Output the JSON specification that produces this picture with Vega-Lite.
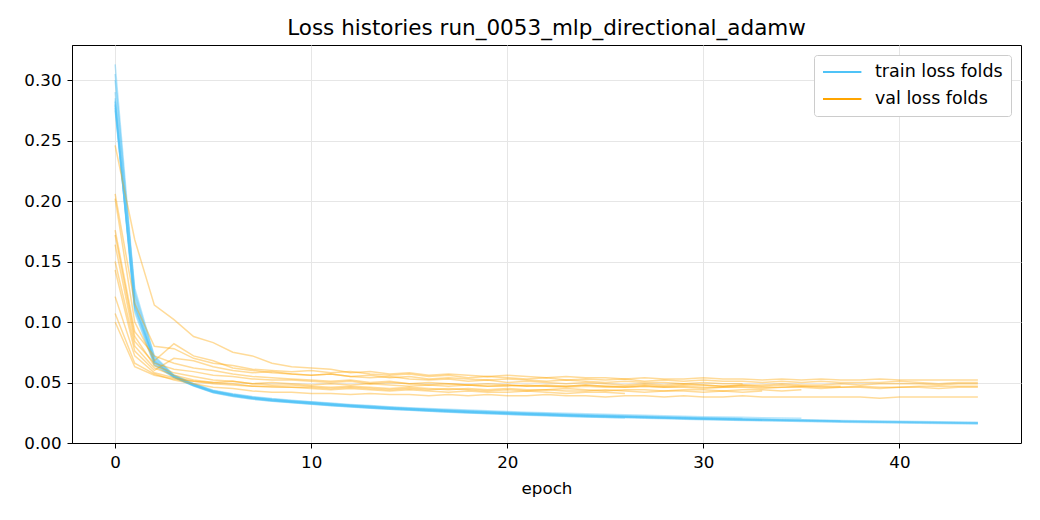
{
  "$schema": "https://vega.github.io/schema/vega-lite/v6.json",
  "description": "Train and validation loss for each fold, by epoch.",
  "width": 949,
  "height": 398,
  "autosize": {"type": "none"},
  "padding": {"left": 72, "top": 45, "right": 19, "bottom": 77},
  "background": "white",
  "title": {
    "text": "Loss histories run_0053_mlp_directional_adamw",
    "font": "DejaVu Sans",
    "fontSize": 21.5,
    "fontWeight": "normal",
    "color": "black",
    "anchor": "middle",
    "offset": 6
  },
  "config": {
    "font": "DejaVu Sans",
    "view": {"stroke": "black", "strokeWidth": 1},
    "axis": {
      "domainColor": "black",
      "tickColor": "black",
      "tickSize": 5,
      "labelFont": "DejaVu Sans",
      "labelFontSize": 16.7,
      "labelColor": "black",
      "labelPadding": 6,
      "gridColor": "#e6e6e6",
      "titleFont": "DejaVu Sans",
      "titleFontSize": 16.7,
      "titleFontWeight": "normal",
      "titleColor": "black"
    }
  },
  "data": {
    "values": [
      {"f": 1, "e": 0, "t": 0.313, "v": 0.246}, {"f": 1, "e": 1, "t": 0.125, "v": 0.168}, {"f": 1, "e": 2, "t": 0.071, "v": 0.114},
      {"f": 1, "e": 3, "t": 0.0556, "v": 0.102}, {"f": 1, "e": 4, "t": 0.0486, "v": 0.088}, {"f": 1, "e": 5, "t": 0.0431, "v": 0.083},
      {"f": 1, "e": 6, "t": 0.0401, "v": 0.075}, {"f": 1, "e": 7, "t": 0.0378, "v": 0.072}, {"f": 1, "e": 8, "t": 0.0361, "v": 0.066},
      {"f": 1, "e": 9, "t": 0.0348, "v": 0.063}, {"f": 1, "e": 10, "t": 0.0336, "v": 0.062}, {"f": 1, "e": 11, "t": 0.0324, "v": 0.061},
      {"f": 1, "e": 12, "t": 0.0313, "v": 0.058}, {"f": 1, "e": 13, "t": 0.0303, "v": 0.059}, {"f": 1, "e": 14, "t": 0.0294, "v": 0.057},
      {"f": 1, "e": 15, "t": 0.0286, "v": 0.058}, {"f": 1, "e": 16, "t": 0.0278, "v": 0.056}, {"f": 1, "e": 17, "t": 0.0271, "v": 0.057},
      {"f": 1, "e": 18, "t": 0.0264, "v": 0.056}, {"f": 1, "e": 19, "t": 0.0258, "v": 0.055}, {"f": 1, "e": 20, "t": 0.0252, "v": 0.056},
      {"f": 1, "e": 21, "t": 0.0246, "v": 0.055}, {"f": 1, "e": 22, "t": 0.0241, "v": 0.054}, {"f": 1, "e": 23, "t": 0.0236, "v": 0.055},
      {"f": 1, "e": 24, "t": 0.0231, "v": 0.054}, {"f": 1, "e": 25, "t": 0.0227, "v": 0.054}, {"f": 1, "e": 26, "t": 0.0223, "v": 0.053},
      {"f": 1, "e": 27, "t": 0.0219, "v": 0.054}, {"f": 1, "e": 28, "t": 0.0215, "v": 0.053}, {"f": 1, "e": 29, "t": 0.0211, "v": 0.053},
      {"f": 1, "e": 30, "t": 0.0207, "v": 0.054}, {"f": 1, "e": 31, "t": 0.0204, "v": 0.053}, {"f": 1, "e": 32, "t": 0.0201, "v": 0.053},
      {"f": 1, "e": 33, "t": 0.0198, "v": 0.052}, {"f": 1, "e": 34, "t": 0.0195, "v": 0.053}, {"f": 1, "e": 35, "t": 0.0192, "v": 0.052},
      {"f": 1, "e": 36, "t": 0.0189, "v": 0.053}, {"f": 1, "e": 37, "t": 0.0186, "v": 0.052}, {"f": 1, "e": 38, "t": 0.0184, "v": 0.052},
      {"f": 1, "e": 39, "t": 0.0182, "v": 0.053}, {"f": 1, "e": 40, "t": 0.018, "v": 0.052}, {"f": 1, "e": 41, "t": 0.0178, "v": 0.052},
      {"f": 1, "e": 42, "t": 0.0176, "v": 0.052}, {"f": 1, "e": 43, "t": 0.0174, "v": 0.052}, {"f": 1, "e": 44, "t": 0.0172, "v": 0.052},

      {"f": 2, "e": 0, "t": 0.305, "v": 0.206}, {"f": 2, "e": 1, "t": 0.121, "v": 0.115}, {"f": 2, "e": 2, "t": 0.067, "v": 0.08},
      {"f": 2, "e": 3, "t": 0.0545, "v": 0.078}, {"f": 2, "e": 4, "t": 0.0475, "v": 0.07}, {"f": 2, "e": 5, "t": 0.042, "v": 0.066},
      {"f": 2, "e": 6, "t": 0.039, "v": 0.064}, {"f": 2, "e": 7, "t": 0.0367, "v": 0.061}, {"f": 2, "e": 8, "t": 0.035, "v": 0.06},
      {"f": 2, "e": 9, "t": 0.0337, "v": 0.059}, {"f": 2, "e": 10, "t": 0.0325, "v": 0.06}, {"f": 2, "e": 11, "t": 0.0313, "v": 0.058},
      {"f": 2, "e": 12, "t": 0.0302, "v": 0.059}, {"f": 2, "e": 13, "t": 0.0292, "v": 0.057}, {"f": 2, "e": 14, "t": 0.0283, "v": 0.056},
      {"f": 2, "e": 15, "t": 0.0275, "v": 0.057}, {"f": 2, "e": 16, "t": 0.0267, "v": 0.055}, {"f": 2, "e": 17, "t": 0.026, "v": 0.056},
      {"f": 2, "e": 18, "t": 0.0253, "v": 0.054}, {"f": 2, "e": 19, "t": 0.0247, "v": 0.055}, {"f": 2, "e": 20, "t": 0.0241, "v": 0.054},
      {"f": 2, "e": 21, "t": 0.0235, "v": 0.053}, {"f": 2, "e": 22, "t": 0.023, "v": 0.054}, {"f": 2, "e": 23, "t": 0.0225, "v": 0.052},
      {"f": 2, "e": 24, "t": 0.022, "v": 0.053}, {"f": 2, "e": 25, "t": 0.0216, "v": 0.052}, {"f": 2, "e": 26, "t": 0.0212, "v": 0.053},
      {"f": 2, "e": 27, "t": 0.0208, "v": 0.051}, {"f": 2, "e": 28, "t": 0.0204, "v": 0.052}, {"f": 2, "e": 29, "t": 0.02, "v": 0.051},
      {"f": 2, "e": 30, "t": 0.0196, "v": 0.052}, {"f": 2, "e": 31, "t": 0.0193, "v": 0.051}, {"f": 2, "e": 32, "t": 0.019, "v": 0.051},
      {"f": 2, "e": 33, "t": 0.0187, "v": 0.05}, {"f": 2, "e": 34, "t": 0.0184, "v": 0.051}, {"f": 2, "e": 35, "t": 0.0181, "v": 0.05},
      {"f": 2, "e": 36, "t": 0.0178, "v": 0.051}, {"f": 2, "e": 37, "t": 0.0175, "v": 0.05}, {"f": 2, "e": 38, "t": 0.0173, "v": 0.05},
      {"f": 2, "e": 39, "t": 0.0171, "v": 0.05}, {"f": 2, "e": 40, "t": 0.0169, "v": 0.051}, {"f": 2, "e": 41, "t": 0.0167, "v": 0.05},
      {"f": 2, "e": 42, "t": 0.0165, "v": 0.049}, {"f": 2, "e": 43, "t": 0.0163, "v": 0.05}, {"f": 2, "e": 44, "t": 0.0161, "v": 0.05},

      {"f": 3, "e": 0, "t": 0.282, "v": 0.202}, {"f": 3, "e": 1, "t": 0.112, "v": 0.1}, {"f": 3, "e": 2, "t": 0.069, "v": 0.068},
      {"f": 3, "e": 3, "t": 0.0553, "v": 0.082}, {"f": 3, "e": 4, "t": 0.0483, "v": 0.072}, {"f": 3, "e": 5, "t": 0.0428, "v": 0.068},
      {"f": 3, "e": 6, "t": 0.0398, "v": 0.062}, {"f": 3, "e": 7, "t": 0.0375, "v": 0.06}, {"f": 3, "e": 8, "t": 0.0358, "v": 0.058},
      {"f": 3, "e": 9, "t": 0.0345, "v": 0.057}, {"f": 3, "e": 10, "t": 0.0333, "v": 0.056}, {"f": 3, "e": 11, "t": 0.0321, "v": 0.057},
      {"f": 3, "e": 12, "t": 0.031, "v": 0.055}, {"f": 3, "e": 13, "t": 0.03, "v": 0.054}, {"f": 3, "e": 14, "t": 0.0291, "v": 0.055},
      {"f": 3, "e": 15, "t": 0.0283, "v": 0.053}, {"f": 3, "e": 16, "t": 0.0275, "v": 0.052}, {"f": 3, "e": 17, "t": 0.0268, "v": 0.053},
      {"f": 3, "e": 18, "t": 0.0261, "v": 0.051}, {"f": 3, "e": 19, "t": 0.0255, "v": 0.052}, {"f": 3, "e": 20, "t": 0.0249, "v": 0.05},
      {"f": 3, "e": 21, "t": 0.0243, "v": 0.051}, {"f": 3, "e": 22, "t": 0.0238, "v": 0.05}, {"f": 3, "e": 23, "t": 0.0233, "v": 0.049},
      {"f": 3, "e": 24, "t": 0.0228, "v": 0.05}, {"f": 3, "e": 25, "t": 0.0224, "v": 0.049}, {"f": 3, "e": 26, "t": 0.022, "v": 0.048},
      {"f": 3, "e": 27, "t": 0.0216, "v": 0.049}, {"f": 3, "e": 28, "t": 0.0212, "v": 0.048}, {"f": 3, "e": 29, "t": 0.0208, "v": 0.049},
      {"f": 3, "e": 30, "t": 0.0204, "v": 0.048}, {"f": 3, "e": 31, "t": 0.0201, "v": 0.047}, {"f": 3, "e": 32, "t": 0.0198, "v": 0.048},
      {"f": 3, "e": 33, "t": 0.0195, "v": 0.047}, {"f": 3, "e": 34, "t": 0.0192, "v": 0.048}, {"f": 3, "e": 35, "t": 0.0189, "v": 0.047},
      {"f": 3, "e": 36, "t": 0.0186, "v": 0.047}, {"f": 3, "e": 37, "t": 0.0183, "v": 0.047},

      {"f": 4, "e": 0, "t": 0.279, "v": 0.176}, {"f": 4, "e": 1, "t": 0.11, "v": 0.092}, {"f": 4, "e": 2, "t": 0.065, "v": 0.072},
      {"f": 4, "e": 3, "t": 0.0542, "v": 0.066}, {"f": 4, "e": 4, "t": 0.0472, "v": 0.062}, {"f": 4, "e": 5, "t": 0.0417, "v": 0.06},
      {"f": 4, "e": 6, "t": 0.0387, "v": 0.057}, {"f": 4, "e": 7, "t": 0.0364, "v": 0.055}, {"f": 4, "e": 8, "t": 0.0347, "v": 0.054},
      {"f": 4, "e": 9, "t": 0.0334, "v": 0.053}, {"f": 4, "e": 10, "t": 0.0322, "v": 0.052}, {"f": 4, "e": 11, "t": 0.031, "v": 0.051},
      {"f": 4, "e": 12, "t": 0.0299, "v": 0.052}, {"f": 4, "e": 13, "t": 0.0289, "v": 0.05}, {"f": 4, "e": 14, "t": 0.028, "v": 0.051},
      {"f": 4, "e": 15, "t": 0.0272, "v": 0.049}, {"f": 4, "e": 16, "t": 0.0264, "v": 0.05}, {"f": 4, "e": 17, "t": 0.0257, "v": 0.049},
      {"f": 4, "e": 18, "t": 0.025, "v": 0.048}, {"f": 4, "e": 19, "t": 0.0244, "v": 0.049}, {"f": 4, "e": 20, "t": 0.0238, "v": 0.048},
      {"f": 4, "e": 21, "t": 0.0232, "v": 0.047}, {"f": 4, "e": 22, "t": 0.0227, "v": 0.048}, {"f": 4, "e": 23, "t": 0.0222, "v": 0.047},
      {"f": 4, "e": 24, "t": 0.0217, "v": 0.048}, {"f": 4, "e": 25, "t": 0.0213, "v": 0.047}, {"f": 4, "e": 26, "t": 0.0209, "v": 0.046},
      {"f": 4, "e": 27, "t": 0.0205, "v": 0.047}, {"f": 4, "e": 28, "t": 0.0201, "v": 0.046}, {"f": 4, "e": 29, "t": 0.0197, "v": 0.047},
      {"f": 4, "e": 30, "t": 0.0193, "v": 0.046}, {"f": 4, "e": 31, "t": 0.019, "v": 0.046}, {"f": 4, "e": 32, "t": 0.0187, "v": 0.047},
      {"f": 4, "e": 33, "t": 0.0184, "v": 0.046}, {"f": 4, "e": 34, "t": 0.0181, "v": 0.046}, {"f": 4, "e": 35, "t": 0.0178, "v": 0.047},
      {"f": 4, "e": 36, "t": 0.0175, "v": 0.046}, {"f": 4, "e": 37, "t": 0.0172, "v": 0.046}, {"f": 4, "e": 38, "t": 0.017, "v": 0.047},
      {"f": 4, "e": 39, "t": 0.0168, "v": 0.046}, {"f": 4, "e": 40, "t": 0.0166, "v": 0.046}, {"f": 4, "e": 41, "t": 0.0164, "v": 0.047},
      {"f": 4, "e": 42, "t": 0.0162, "v": 0.047}, {"f": 4, "e": 43, "t": 0.016, "v": 0.047}, {"f": 4, "e": 44, "t": 0.0158, "v": 0.047},

      {"f": 5, "e": 0, "t": 0.285, "v": 0.172}, {"f": 5, "e": 1, "t": 0.128, "v": 0.088}, {"f": 5, "e": 2, "t": 0.072, "v": 0.064},
      {"f": 5, "e": 3, "t": 0.0562, "v": 0.058}, {"f": 5, "e": 4, "t": 0.0492, "v": 0.055}, {"f": 5, "e": 5, "t": 0.0437, "v": 0.052},
      {"f": 5, "e": 6, "t": 0.0407, "v": 0.051}, {"f": 5, "e": 7, "t": 0.0384, "v": 0.049}, {"f": 5, "e": 8, "t": 0.0367, "v": 0.048},
      {"f": 5, "e": 9, "t": 0.0354, "v": 0.048}, {"f": 5, "e": 10, "t": 0.0342, "v": 0.047}, {"f": 5, "e": 11, "t": 0.033, "v": 0.046},
      {"f": 5, "e": 12, "t": 0.0319, "v": 0.047}, {"f": 5, "e": 13, "t": 0.0309, "v": 0.046}, {"f": 5, "e": 14, "t": 0.03, "v": 0.045},
      {"f": 5, "e": 15, "t": 0.0292, "v": 0.046}, {"f": 5, "e": 16, "t": 0.0285, "v": 0.045}, {"f": 5, "e": 17, "t": 0.0278, "v": 0.044},
      {"f": 5, "e": 18, "t": 0.0272, "v": 0.045}, {"f": 5, "e": 19, "t": 0.0266, "v": 0.044}, {"f": 5, "e": 20, "t": 0.026, "v": 0.045},
      {"f": 5, "e": 21, "t": 0.0255, "v": 0.044}, {"f": 5, "e": 22, "t": 0.025, "v": 0.044}, {"f": 5, "e": 23, "t": 0.0245, "v": 0.045},
      {"f": 5, "e": 24, "t": 0.0241, "v": 0.044}, {"f": 5, "e": 25, "t": 0.0237, "v": 0.043}, {"f": 5, "e": 26, "t": 0.0233, "v": 0.044},
      {"f": 5, "e": 27, "t": 0.0229, "v": 0.044}, {"f": 5, "e": 28, "t": 0.0225, "v": 0.043}, {"f": 5, "e": 29, "t": 0.0221, "v": 0.044},
      {"f": 5, "e": 30, "t": 0.0218, "v": 0.044}, {"f": 5, "e": 31, "t": 0.0215, "v": 0.043}, {"f": 5, "e": 32, "t": 0.0212, "v": 0.044},
      {"f": 5, "e": 33, "t": 0.0209, "v": 0.044}, {"f": 5, "e": 34, "t": 0.0206, "v": 0.043}, {"f": 5, "e": 35, "t": 0.0204, "v": 0.044},

      {"f": 6, "e": 0, "t": 0.29, "v": 0.164}, {"f": 6, "e": 1, "t": 0.118, "v": 0.084}, {"f": 6, "e": 2, "t": 0.068, "v": 0.066},
      {"f": 6, "e": 3, "t": 0.055, "v": 0.061}, {"f": 6, "e": 4, "t": 0.048, "v": 0.059}, {"f": 6, "e": 5, "t": 0.0425, "v": 0.056},
      {"f": 6, "e": 6, "t": 0.0395, "v": 0.055}, {"f": 6, "e": 7, "t": 0.0372, "v": 0.053}, {"f": 6, "e": 8, "t": 0.0355, "v": 0.052},
      {"f": 6, "e": 9, "t": 0.0342, "v": 0.052}, {"f": 6, "e": 10, "t": 0.033, "v": 0.051}, {"f": 6, "e": 11, "t": 0.0318, "v": 0.05},
      {"f": 6, "e": 12, "t": 0.0307, "v": 0.051}, {"f": 6, "e": 13, "t": 0.0297, "v": 0.049}, {"f": 6, "e": 14, "t": 0.0288, "v": 0.05},
      {"f": 6, "e": 15, "t": 0.028, "v": 0.049}, {"f": 6, "e": 16, "t": 0.0272, "v": 0.048}, {"f": 6, "e": 17, "t": 0.0265, "v": 0.049},
      {"f": 6, "e": 18, "t": 0.0258, "v": 0.048}, {"f": 6, "e": 19, "t": 0.0252, "v": 0.047}, {"f": 6, "e": 20, "t": 0.0246, "v": 0.048},
      {"f": 6, "e": 21, "t": 0.024, "v": 0.047}, {"f": 6, "e": 22, "t": 0.0235, "v": 0.047}, {"f": 6, "e": 23, "t": 0.023, "v": 0.046},
      {"f": 6, "e": 24, "t": 0.0225, "v": 0.047}, {"f": 6, "e": 25, "t": 0.0221, "v": 0.046}, {"f": 6, "e": 26, "t": 0.0217, "v": 0.046},
      {"f": 6, "e": 27, "t": 0.0213, "v": 0.047}, {"f": 6, "e": 28, "t": 0.0209, "v": 0.046}, {"f": 6, "e": 29, "t": 0.0205, "v": 0.046},
      {"f": 6, "e": 30, "t": 0.0201, "v": 0.045}, {"f": 6, "e": 31, "t": 0.0198, "v": 0.046}, {"f": 6, "e": 32, "t": 0.0195, "v": 0.046},
      {"f": 6, "e": 33, "t": 0.0192, "v": 0.045}, {"f": 6, "e": 34, "t": 0.0189, "v": 0.046}, {"f": 6, "e": 35, "t": 0.0186, "v": 0.046},
      {"f": 6, "e": 36, "t": 0.0183, "v": 0.045}, {"f": 6, "e": 37, "t": 0.018, "v": 0.046}, {"f": 6, "e": 38, "t": 0.0178, "v": 0.046},
      {"f": 6, "e": 39, "t": 0.0176, "v": 0.045}, {"f": 6, "e": 40, "t": 0.0174, "v": 0.046}, {"f": 6, "e": 41, "t": 0.0172, "v": 0.046},
      {"f": 6, "e": 42, "t": 0.017, "v": 0.045}, {"f": 6, "e": 43, "t": 0.0168, "v": 0.046}, {"f": 6, "e": 44, "t": 0.0166, "v": 0.046},

      {"f": 7, "e": 0, "t": 0.277, "v": 0.15}, {"f": 7, "e": 1, "t": 0.114, "v": 0.08}, {"f": 7, "e": 2, "t": 0.066, "v": 0.062},
      {"f": 7, "e": 3, "t": 0.0547, "v": 0.056}, {"f": 7, "e": 4, "t": 0.0477, "v": 0.052}, {"f": 7, "e": 5, "t": 0.0422, "v": 0.05},
      {"f": 7, "e": 6, "t": 0.0392, "v": 0.049}, {"f": 7, "e": 7, "t": 0.0369, "v": 0.047}, {"f": 7, "e": 8, "t": 0.0352, "v": 0.047},
      {"f": 7, "e": 9, "t": 0.0339, "v": 0.046}, {"f": 7, "e": 10, "t": 0.0327, "v": 0.046}, {"f": 7, "e": 11, "t": 0.0315, "v": 0.045},
      {"f": 7, "e": 12, "t": 0.0304, "v": 0.046}, {"f": 7, "e": 13, "t": 0.0294, "v": 0.045}, {"f": 7, "e": 14, "t": 0.0285, "v": 0.044},
      {"f": 7, "e": 15, "t": 0.0277, "v": 0.045}, {"f": 7, "e": 16, "t": 0.0269, "v": 0.044}, {"f": 7, "e": 17, "t": 0.0262, "v": 0.045},
      {"f": 7, "e": 18, "t": 0.0255, "v": 0.044}, {"f": 7, "e": 19, "t": 0.0249, "v": 0.043}, {"f": 7, "e": 20, "t": 0.0243, "v": 0.044},
      {"f": 7, "e": 21, "t": 0.0237, "v": 0.043}, {"f": 7, "e": 22, "t": 0.0232, "v": 0.044}, {"f": 7, "e": 23, "t": 0.0227, "v": 0.043},
      {"f": 7, "e": 24, "t": 0.0222, "v": 0.043}, {"f": 7, "e": 25, "t": 0.0218, "v": 0.044}, {"f": 7, "e": 26, "t": 0.0214, "v": 0.043},
      {"f": 7, "e": 27, "t": 0.021, "v": 0.042}, {"f": 7, "e": 28, "t": 0.0206, "v": 0.043}, {"f": 7, "e": 29, "t": 0.0202, "v": 0.043},
      {"f": 7, "e": 30, "t": 0.0198, "v": 0.042}, {"f": 7, "e": 31, "t": 0.0195, "v": 0.043}, {"f": 7, "e": 32, "t": 0.0192, "v": 0.042},
      {"f": 7, "e": 33, "t": 0.0189, "v": 0.043},

      {"f": 8, "e": 0, "t": 0.3, "v": 0.143}, {"f": 8, "e": 1, "t": 0.123, "v": 0.076}, {"f": 8, "e": 2, "t": 0.07, "v": 0.06},
      {"f": 8, "e": 3, "t": 0.0558, "v": 0.07}, {"f": 8, "e": 4, "t": 0.0488, "v": 0.068}, {"f": 8, "e": 5, "t": 0.0433, "v": 0.063},
      {"f": 8, "e": 6, "t": 0.0403, "v": 0.06}, {"f": 8, "e": 7, "t": 0.038, "v": 0.058}, {"f": 8, "e": 8, "t": 0.0363, "v": 0.059},
      {"f": 8, "e": 9, "t": 0.035, "v": 0.057}, {"f": 8, "e": 10, "t": 0.0338, "v": 0.056}, {"f": 8, "e": 11, "t": 0.0326, "v": 0.057},
      {"f": 8, "e": 12, "t": 0.0315, "v": 0.055}, {"f": 8, "e": 13, "t": 0.0305, "v": 0.056}, {"f": 8, "e": 14, "t": 0.0296, "v": 0.054},
      {"f": 8, "e": 15, "t": 0.0288, "v": 0.055}, {"f": 8, "e": 16, "t": 0.028, "v": 0.053}, {"f": 8, "e": 17, "t": 0.0273, "v": 0.054},
      {"f": 8, "e": 18, "t": 0.0266, "v": 0.053}, {"f": 8, "e": 19, "t": 0.026, "v": 0.052}, {"f": 8, "e": 20, "t": 0.0254, "v": 0.053},
      {"f": 8, "e": 21, "t": 0.0248, "v": 0.052}, {"f": 8, "e": 22, "t": 0.0243, "v": 0.051}, {"f": 8, "e": 23, "t": 0.0238, "v": 0.052},
      {"f": 8, "e": 24, "t": 0.0233, "v": 0.051}, {"f": 8, "e": 25, "t": 0.0229, "v": 0.05}, {"f": 8, "e": 26, "t": 0.0225, "v": 0.051},
      {"f": 8, "e": 27, "t": 0.0221, "v": 0.05}, {"f": 8, "e": 28, "t": 0.0217, "v": 0.05}, {"f": 8, "e": 29, "t": 0.0213, "v": 0.049},
      {"f": 8, "e": 30, "t": 0.0209, "v": 0.05}, {"f": 8, "e": 31, "t": 0.0206, "v": 0.049}, {"f": 8, "e": 32, "t": 0.0203, "v": 0.049},

      {"f": 9, "e": 0, "t": 0.28, "v": 0.121}, {"f": 9, "e": 1, "t": 0.108, "v": 0.072}, {"f": 9, "e": 2, "t": 0.064, "v": 0.058},
      {"f": 9, "e": 3, "t": 0.054, "v": 0.054}, {"f": 9, "e": 4, "t": 0.047, "v": 0.051}, {"f": 9, "e": 5, "t": 0.0415, "v": 0.049},
      {"f": 9, "e": 6, "t": 0.0385, "v": 0.048}, {"f": 9, "e": 7, "t": 0.0362, "v": 0.047}, {"f": 9, "e": 8, "t": 0.0345, "v": 0.046},
      {"f": 9, "e": 9, "t": 0.0332, "v": 0.046}, {"f": 9, "e": 10, "t": 0.032, "v": 0.045}, {"f": 9, "e": 11, "t": 0.0308, "v": 0.044},
      {"f": 9, "e": 12, "t": 0.0297, "v": 0.045}, {"f": 9, "e": 13, "t": 0.0287, "v": 0.044}, {"f": 9, "e": 14, "t": 0.0278, "v": 0.043},
      {"f": 9, "e": 15, "t": 0.027, "v": 0.044}, {"f": 9, "e": 16, "t": 0.0262, "v": 0.043}, {"f": 9, "e": 17, "t": 0.0255, "v": 0.042},
      {"f": 9, "e": 18, "t": 0.0248, "v": 0.043}, {"f": 9, "e": 19, "t": 0.0242, "v": 0.042}, {"f": 9, "e": 20, "t": 0.0236, "v": 0.042},
      {"f": 9, "e": 21, "t": 0.023, "v": 0.043}, {"f": 9, "e": 22, "t": 0.0225, "v": 0.042}, {"f": 9, "e": 23, "t": 0.022, "v": 0.041},
      {"f": 9, "e": 24, "t": 0.0215, "v": 0.042}, {"f": 9, "e": 25, "t": 0.0211, "v": 0.042}, {"f": 9, "e": 26, "t": 0.0207, "v": 0.041},

      {"f": 10, "e": 0, "t": 0.275, "v": 0.107}, {"f": 10, "e": 1, "t": 0.116, "v": 0.066}, {"f": 10, "e": 2, "t": 0.068, "v": 0.057},
      {"f": 10, "e": 3, "t": 0.0552, "v": 0.052}, {"f": 10, "e": 4, "t": 0.0482, "v": 0.049}, {"f": 10, "e": 5, "t": 0.0427, "v": 0.046},
      {"f": 10, "e": 6, "t": 0.0397, "v": 0.045}, {"f": 10, "e": 7, "t": 0.0374, "v": 0.043}, {"f": 10, "e": 8, "t": 0.0357, "v": 0.042},
      {"f": 10, "e": 9, "t": 0.0344, "v": 0.042}, {"f": 10, "e": 10, "t": 0.0332, "v": 0.041}, {"f": 10, "e": 11, "t": 0.032, "v": 0.041},
      {"f": 10, "e": 12, "t": 0.0309, "v": 0.04}, {"f": 10, "e": 13, "t": 0.0299, "v": 0.041}, {"f": 10, "e": 14, "t": 0.029, "v": 0.04},
      {"f": 10, "e": 15, "t": 0.0282, "v": 0.04}, {"f": 10, "e": 16, "t": 0.0274, "v": 0.039}, {"f": 10, "e": 17, "t": 0.0267, "v": 0.04},
      {"f": 10, "e": 18, "t": 0.026, "v": 0.039}, {"f": 10, "e": 19, "t": 0.0254, "v": 0.04}, {"f": 10, "e": 20, "t": 0.0248, "v": 0.039},
      {"f": 10, "e": 21, "t": 0.0242, "v": 0.039}, {"f": 10, "e": 22, "t": 0.0237, "v": 0.04}, {"f": 10, "e": 23, "t": 0.0232, "v": 0.039},
      {"f": 10, "e": 24, "t": 0.0227, "v": 0.039}, {"f": 10, "e": 25, "t": 0.0223, "v": 0.038}, {"f": 10, "e": 26, "t": 0.0219, "v": 0.039},
      {"f": 10, "e": 27, "t": 0.0215, "v": 0.039}, {"f": 10, "e": 28, "t": 0.0211, "v": 0.038}, {"f": 10, "e": 29, "t": 0.0207, "v": 0.039},
      {"f": 10, "e": 30, "t": 0.0203, "v": 0.038}, {"f": 10, "e": 31, "t": 0.02, "v": 0.038}, {"f": 10, "e": 32, "t": 0.0197, "v": 0.039},
      {"f": 10, "e": 33, "t": 0.0194, "v": 0.038}, {"f": 10, "e": 34, "t": 0.0191, "v": 0.038}, {"f": 10, "e": 35, "t": 0.0188, "v": 0.038},
      {"f": 10, "e": 36, "t": 0.0185, "v": 0.038}, {"f": 10, "e": 37, "t": 0.0182, "v": 0.038}, {"f": 10, "e": 38, "t": 0.018, "v": 0.038},
      {"f": 10, "e": 39, "t": 0.0178, "v": 0.037}, {"f": 10, "e": 40, "t": 0.0176, "v": 0.038}, {"f": 10, "e": 41, "t": 0.0174, "v": 0.038},
      {"f": 10, "e": 42, "t": 0.0172, "v": 0.038}, {"f": 10, "e": 43, "t": 0.017, "v": 0.038}, {"f": 10, "e": 44, "t": 0.0168, "v": 0.038},

      {"f": 11, "e": 0, "t": 0.283, "v": 0.1}, {"f": 11, "e": 1, "t": 0.113, "v": 0.063}, {"f": 11, "e": 2, "t": 0.067, "v": 0.056},
      {"f": 11, "e": 3, "t": 0.0548, "v": 0.053}, {"f": 11, "e": 4, "t": 0.0478, "v": 0.051}, {"f": 11, "e": 5, "t": 0.0423, "v": 0.05},
      {"f": 11, "e": 6, "t": 0.0393, "v": 0.051}, {"f": 11, "e": 7, "t": 0.037, "v": 0.049}, {"f": 11, "e": 8, "t": 0.0353, "v": 0.05},
      {"f": 11, "e": 9, "t": 0.034, "v": 0.049}, {"f": 11, "e": 10, "t": 0.0328, "v": 0.048}, {"f": 11, "e": 11, "t": 0.0316, "v": 0.049},
      {"f": 11, "e": 12, "t": 0.0305, "v": 0.048}, {"f": 11, "e": 13, "t": 0.0295, "v": 0.049}, {"f": 11, "e": 14, "t": 0.0286, "v": 0.048},
      {"f": 11, "e": 15, "t": 0.0278, "v": 0.047}, {"f": 11, "e": 16, "t": 0.027, "v": 0.048}, {"f": 11, "e": 17, "t": 0.0263, "v": 0.047},
      {"f": 11, "e": 18, "t": 0.0256, "v": 0.048}, {"f": 11, "e": 19, "t": 0.025, "v": 0.047}, {"f": 11, "e": 20, "t": 0.0244, "v": 0.047},
      {"f": 11, "e": 21, "t": 0.0238, "v": 0.048}, {"f": 11, "e": 22, "t": 0.0233, "v": 0.047}, {"f": 11, "e": 23, "t": 0.0228, "v": 0.047},
      {"f": 11, "e": 24, "t": 0.0223, "v": 0.048}, {"f": 11, "e": 25, "t": 0.0219, "v": 0.047}, {"f": 11, "e": 26, "t": 0.0215, "v": 0.047},
      {"f": 11, "e": 27, "t": 0.0211, "v": 0.048}, {"f": 11, "e": 28, "t": 0.0207, "v": 0.047}, {"f": 11, "e": 29, "t": 0.0203, "v": 0.048},
      {"f": 11, "e": 30, "t": 0.0199, "v": 0.048}, {"f": 11, "e": 31, "t": 0.0196, "v": 0.047}, {"f": 11, "e": 32, "t": 0.0193, "v": 0.048},
      {"f": 11, "e": 33, "t": 0.019, "v": 0.048}, {"f": 11, "e": 34, "t": 0.0187, "v": 0.049}, {"f": 11, "e": 35, "t": 0.0184, "v": 0.048},
      {"f": 11, "e": 36, "t": 0.0181, "v": 0.048}, {"f": 11, "e": 37, "t": 0.0178, "v": 0.049}, {"f": 11, "e": 38, "t": 0.0176, "v": 0.048},
      {"f": 11, "e": 39, "t": 0.0174, "v": 0.049}, {"f": 11, "e": 40, "t": 0.0172, "v": 0.049}, {"f": 11, "e": 41, "t": 0.017, "v": 0.049},
      {"f": 11, "e": 42, "t": 0.0168, "v": 0.048}, {"f": 11, "e": 43, "t": 0.0166, "v": 0.049}, {"f": 11, "e": 44, "t": 0.0164, "v": 0.049}
    ]
  },
  "transform": [{"fold": ["t", "v"], "as": ["s", "loss"]}],
  "encoding": {
    "x": {
      "field": "e",
      "type": "quantitative",
      "scale": {"domain": [-2.2, 46.2], "nice": false, "zero": false},
      "axis": {"title": "epoch", "values": [0, 10, 20, 30, 40], "titlePadding": 10}
    },
    "y": {
      "field": "loss",
      "type": "quantitative",
      "scale": {"domain": [0, 0.329], "nice": false},
      "axis": {"title": null, "values": [0, 0.05, 0.1, 0.15, 0.2, 0.25, 0.3], "format": ".2f"}
    },
    "color": {
      "field": "s",
      "type": "nominal",
      "scale": {"domain": ["t", "v"], "range": ["#4fc3f7", "#ffa500"]},
      "legend": {
        "title": null,
        "orient": "top-right",
        "offset": 10,
        "fillColor": "white",
        "strokeColor": "#cccccc",
        "cornerRadius": 3,
        "padding": 8,
        "symbolType": "M-1,0H3.8",
        "symbolSize": 256,
        "symbolStrokeWidth": 2,
        "symbolOpacity": 1,
        "labelFont": "DejaVu Sans",
        "labelFontSize": 17.5,
        "labelColor": "black",
        "labelOffset": 35,
        "rowPadding": 9,
        "labelExpr": "datum.label == 't' ? 'train loss folds' : 'val loss folds'"
      }
    },
    "detail": {"field": "f", "type": "nominal"}
  },
  "layer": [
    {
      "transform": [{"filter": "datum.s == 't'"}],
      "mark": {"type": "line", "strokeWidth": 1.5, "strokeOpacity": 0.4, "clip": true}
    },
    {
      "transform": [{"filter": "datum.s == 'v'"}],
      "mark": {"type": "line", "strokeWidth": 1.5, "strokeOpacity": 0.4, "clip": true}
    }
  ]
}
